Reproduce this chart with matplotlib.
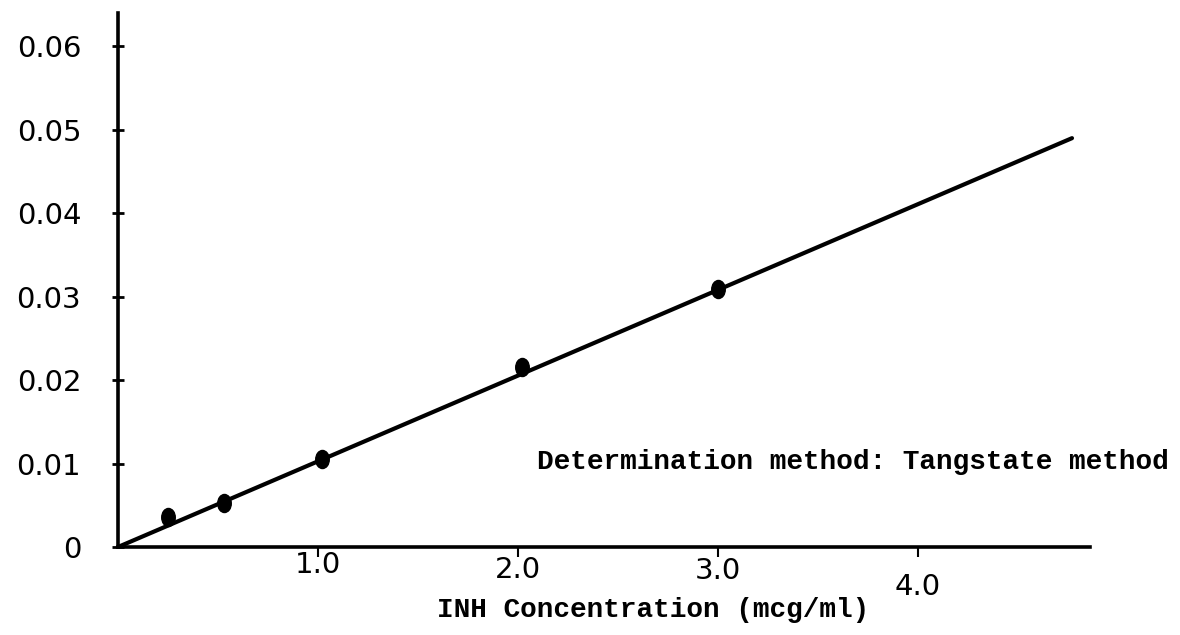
import numpy as np
import matplotlib
matplotlib.use("Agg")
from matplotlib import pyplot as plt
from matplotlib.path import Path
from matplotlib.transforms import Affine2D

# INH standard curve (Tangstate method)
concentration = [0.25, 0.53, 1.02, 2.02, 3.0]
absorbance = [0.0036, 0.0053, 0.0106, 0.0216, 0.0309]

# hand drawn calibration line
fitX = [0.0, 4.77]
fitY = [0.0, 0.0490]

xTicks = [1.0, 2.0, 3.0, 4.0]
xTickLabels = ['1.0', '2.0', '3.0', '4.0']
yTicks = [0, 0.01, 0.02, 0.03, 0.04, 0.05, 0.06]
yTickLabels = ['0', '0.01', '0.02', '0.03', '0.04', '0.05', '0.06']

typeFont = {'family': 'Liberation Mono', 'fontsize': 20, 'fontweight': 'bold'}
handFont = {'family': 'DejaVu Sans', 'fontsize': 21}

fig = plt.figure(figsize=(11.8, 6.35), dpi=100)
ax = fig.add_axes([118 / 1180., 88 / 635., 972 / 1180., 534 / 635.])

# slightly tall dots, like the pencil marks
dot = Path.unit_circle().transformed(Affine2D().scale(0.75, 1.0))

ax.plot(fitX, fitY, color='black', linewidth=3.0, solid_capstyle='round')
ax.plot(concentration, absorbance, linestyle='none', marker=dot,
        markersize=13, color='black')

ax.set_xlim(0, 4.86)
ax.set_ylim(0, 0.064)

for side in ['top', 'right']:
    ax.spines[side].set_visible(False)
for side in ['left', 'bottom']:
    ax.spines[side].set_linewidth(2.6)

ax.set_yticks(yTicks)
ax.set_yticklabels(yTickLabels, **handFont)
ax.tick_params(axis='y', direction='inout', length=9, width=2, pad=22)

ax.set_xticks(xTicks)
ax.set_xticklabels(xTickLabels, **handFont)
ax.tick_params(axis='x', direction='out', length=7, width=1.5)

# typed labels sit at uneven heights
pads = [-4.0, -0.5, 0.5, 11.5]
for tick, p in zip(ax.xaxis.get_major_ticks(), pads):
    tick.set_pad(p)

fig.text(437 / 1180., (635 - 610) / 635., 'INH Concentration (mcg/ml)',
         ha='left', va='center', **typeFont)
fig.text(537 / 1180., (635 - 462) / 635., 'Determination method: Tangstate method',
         ha='left', va='center', **typeFont)

fig.savefig('out.png', dpi=100)
